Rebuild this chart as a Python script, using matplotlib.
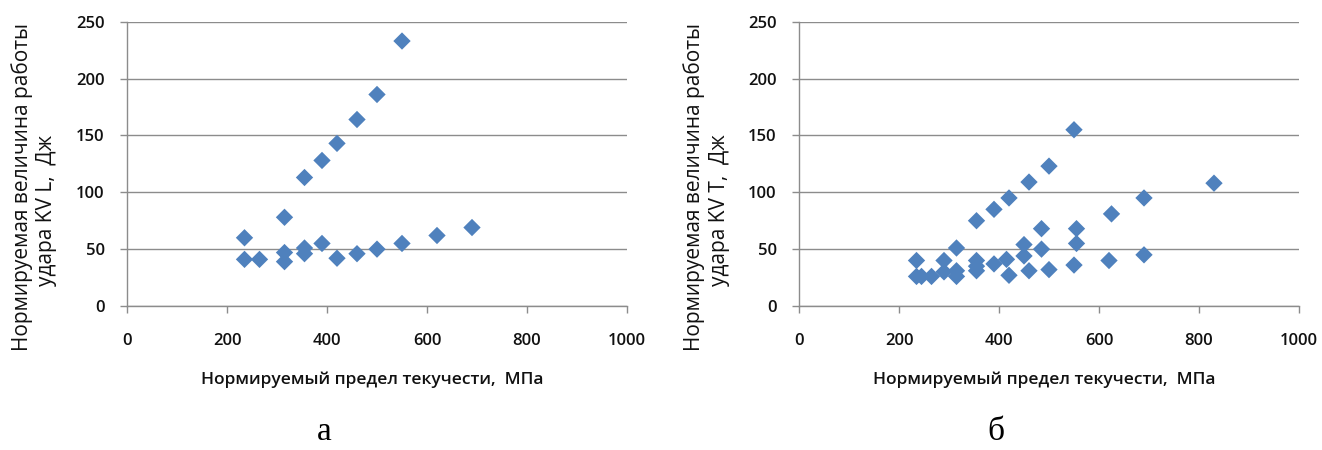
import matplotlib
matplotlib.use("Agg")
import matplotlib.pyplot as plt

plt.rcParams['font.family'] = ['Open Sans', 'DejaVu Sans']

# Panel "а": KV L
x_L = [235, 235, 265, 315, 315, 315, 355, 355, 355, 390, 390, 420, 420, 460, 460, 500, 500, 550, 550, 620, 690]
y_L = [60, 41, 41, 78, 47, 39, 113, 51, 46, 128, 55, 143, 42, 164, 46, 186, 50, 233, 55, 62, 69]

# Panel "б": KV T
x_T = [235, 235, 245, 265, 290, 290, 315, 315, 315, 355, 355, 355, 355, 390, 390, 415, 420, 420,
       450, 450, 460, 460, 485, 485, 500, 500, 550, 555, 555, 550, 620, 625, 690, 690, 830]
y_T = [40, 26, 26, 26, 40, 30, 51, 31, 26, 75, 40, 35, 31, 85, 37, 41, 95, 27,
       54, 44, 109, 31, 68, 50, 123, 32, 155, 68, 55, 36, 40, 81, 95, 45, 108]

x_ticks = [0, 200, 400, 600, 800, 1000]
y_ticks = [0, 50, 100, 150, 200, 250]
x_label = "Нормируемый предел текучести,  МПа"
y_label_line1 = "Нормируемая величина работы"
y_label_line2 = ["удара KV L,  Дж", "удара KV T,  Дж"]
panel_labels = ["а", "б"]

W, H = 1322, 450
fig = plt.figure(figsize=(W / 100, H / 100), dpi=100)

marker_color = "#4F81BD"
grid_color = "#8C8C8C"

panels = [(x_L, y_L, 127), (x_T, y_T, 799)]
for i, (xs, ys, left_px) in enumerate(panels):
    ax = fig.add_axes([left_px / W, (H - 306) / H, 500 / W, 284.3 / H])
    ax.scatter(xs, ys, marker="D", s=78, color=marker_color, edgecolors="none", zorder=3)
    ax.set_xlim(0, 1000)
    ax.set_ylim(0, 250)
    ax.set_xticks(x_ticks)
    ax.set_yticks(y_ticks)
    ax.yaxis.grid(True, color=grid_color, linewidth=1.0)
    ax.set_axisbelow(True)
    for s in ["top", "right"]:
        ax.spines[s].set_visible(False)
    for s in ["left", "bottom"]:
        ax.spines[s].set_color(grid_color)
        ax.spines[s].set_linewidth(1.0)
    ax.tick_params(axis="both", direction="out", length=5, width=1.0, color=grid_color,
                   labelsize=12, labelcolor="#111111")
    for lab in ax.get_xticklabels() + ax.get_yticklabels():
        lab.set_fontweight("semibold")
    ax.tick_params(axis="x", pad=14.5)
    ax.tick_params(axis="y", pad=11)
    cx = (left_px + 245) / W
    fig.text(cx, 1 - 380 / H, x_label, ha="center", va="center", fontsize=12.5,
             fontweight="semibold", color="#111111")
    fig.text((left_px - 105) / W, 1 - 187 / H, y_label_line1, ha="center", va="center",
             rotation=90, fontsize=15, color="#111111")
    fig.text((left_px - 80) / W, 1 - 210 / H, y_label_line2[i], ha="center", va="center",
             rotation=90, fontsize=15, color="#111111")
    fig.text((left_px + 197) / W, 10 / H, panel_labels[i], ha="center", va="baseline",
             fontsize=24, family=["Liberation Serif", "DejaVu Serif"], color="black")

fig.savefig("out.png", dpi=100, facecolor="white")
